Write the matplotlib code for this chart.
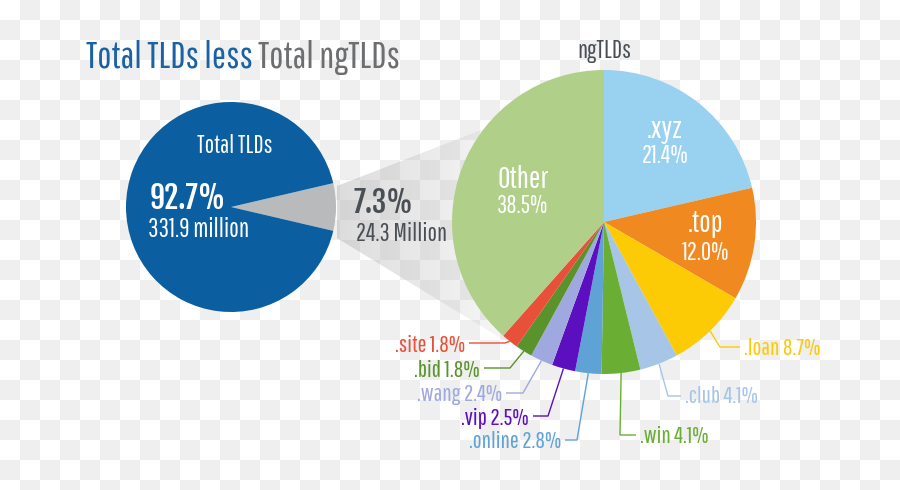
import numpy as np
import matplotlib
matplotlib.use("Agg")
import matplotlib.pyplot as plt
from matplotlib.patches import Polygon

# ---------------- data ----------------
total_labels = ["ngTLDs", "Total TLDs"]
total_shares = [7.3, 92.7]
total_values_text = ["24.3 Million", "331.9 million"]

ng_labels = [".xyz", ".top", ".loan", ".club", ".win", ".online", ".vip",
             ".wang", ".bid", ".site", "Other"]
ng_shares = [21.4, 12.0, 8.7, 4.1, 4.1, 2.8, 2.5, 2.4, 1.8, 1.8, 38.5]

# ---------------- style ----------------
FONT = ["Pathway Gothic One", "Roboto Condensed", "DejaVu Sans"]
BOLD = ["Fjalla One", "Oswald", "Roboto Condensed", "DejaVu Sans"]
plt.rcParams["font.family"] = FONT

W, H = 900, 490
BLUE = "#0b5e9f"
GRAY_WEDGE = "#b9babc"
DARK = "#4a4f55"
TITLE_BLUE = "#1a62a4"
TITLE_GRAY = "#6d6e70"
ng_colors = ["#99d1f0", "#f0891f", "#fccb05", "#a7c5e7", "#6aaf34",
             "#5fa3d6", "#5b0fbf", "#a0a8e0", "#5a922c", "#e8503a", "#b0cf88"]


def Y(py):
    return H - py


fig = plt.figure(figsize=(9, 4.9), dpi=100)
ax = fig.add_axes([0, 0, 1, 1])

# checkerboard background (transparent-PNG look)
ny, nx = H // 20 + 1, W // 20 + 1
cb = np.add.outer(np.arange(ny), np.arange(nx)) % 2
bg = np.ones((ny, nx, 3))
bg[cb == 1] = np.array([0xef, 0xef, 0xef]) / 255
ax.imshow(bg, extent=(0, nx * 20, H - ny * 20, H), origin="upper",
          interpolation="nearest", zorder=0)

# ---------------- left pie ----------------
Lc = (231, Y(207))
Lr = 105
ax.pie(total_shares, colors=[GRAY_WEDGE, BLUE], startangle=total_shares[0] * 1.8,
       counterclock=False, center=Lc, radius=Lr,
       wedgeprops=dict(linewidth=0, zorder=3))

# funnel (gradient) from the small wedge to the right pie
fx0, fx1 = 337, 530
funnel = Polygon([(fx0, Y(186)), (fx1, Y(111)), (fx1, Y(356)), (fx0, Y(238))],
                 closed=True, facecolor="none", edgecolor="none")
ax.add_patch(funnel)
grad = np.zeros((2, 256, 4))
grad[..., :3] = 0.70
grad[..., 3] = np.linspace(0.45, 0.06, 256)[None, :]
im = ax.imshow(grad, extent=(fx0, fx1, Y(356), Y(111)), origin="upper",
               interpolation="bilinear", zorder=1, aspect="auto")
im.set_clip_path(funnel)

# ---------------- right pie ----------------
Rc = (604, Y(222))
Rr = 152
wedges, _ = ax.pie(ng_shares, colors=ng_colors, startangle=90, counterclock=False,
                   center=Rc, radius=Rr,
                   wedgeprops=dict(linewidth=0, zorder=3))

ax.set_xlim(0, W)
ax.set_ylim(0, H)
ax.set_aspect("equal")
ax.axis("off")

# ---------------- texts ----------------
t1 = ax.text(86, Y(68), "Total TLDs less", color=TITLE_BLUE, fontsize=27,
             ha="left", va="baseline", zorder=5)
ax.annotate("Total ngTLDs", xy=(1, 0), xycoords=t1, xytext=(4, 0),
            textcoords="offset points", color=TITLE_GRAY, fontsize=27,
            ha="left", va="bottom", zorder=5)

ax.text(Rc[0], Y(58), "ngTLDs", color=DARK, fontsize=18, ha="center",
        va="baseline", zorder=5)

ax.text(235, Y(153), total_labels[1], color="white", fontsize=18,
        ha="center", va="baseline", zorder=5)
ax.text(150, Y(209), f"{total_shares[1]:.1f}%", color="white", fontsize=21.5,
        family=BOLD, ha="left", va="baseline", zorder=5)
ax.text(148, Y(237), total_values_text[1], color="white", fontsize=18.5,
        ha="left", va="baseline", zorder=5)

ax.text(353, Y(213), f"{total_shares[0]:.1f}%", color=DARK, fontsize=21,
        family=BOLD, ha="left", va="baseline", zorder=5)
ax.text(356, Y(241), total_values_text[0], color=DARK, fontsize=18,
        ha="left", va="baseline", zorder=5)

# inside labels for big slices: (name x, name baseline, pct baseline)
inside = {
    ".xyz": (665, 138, 163),
    ".top": (706, 232, 260),
    "Other": (523, 188, 213),
}
for name, (cx, b1, b2) in inside.items():
    i = ng_labels.index(name)
    ax.text(cx, Y(b1), name, color="white", fontsize=22,
            ha="center", va="baseline", zorder=5)
    ax.text(cx, Y(b2), f"{ng_shares[i]:.1f}%", color="white", fontsize=18,
            ha="center", va="baseline", zorder=5)

# outside labels: elbow point, line end, text side, text baseline
outside = {
    ".loan":   ((720, 347), (740, 347), "left", 355),
    ".club":   ((668, 396), (681, 396), "left", 403),
    ".win":    ((620, 435), (636, 435), "left", 443),
    ".online": ((577, 440), (565, 440), "right", 448),
    ".vip":    ((548, 416), (533, 416), "right", 425),
    ".wang":   ((523, 393), (506, 393), "right", 401),
    ".bid":    ((510, 368), (484, 368), "right", 377),
    ".site":   ((505, 343), (469, 343), "right", 352),
}
for w, name in zip(wedges, ng_labels):
    if name not in outside:
        continue
    i = ng_labels.index(name)
    ang = np.deg2rad((w.theta1 + w.theta2) / 2)
    sx = Rc[0] + Rr * np.cos(ang)
    sy = Rc[1] + Rr * np.sin(ang)
    (ex, ey), (lx, ly), side, base = outside[name]
    col = ng_colors[i]
    ax.plot([sx, ex, lx], [sy, Y(ey), Y(ly)], color=col, lw=1.0, zorder=4,
            solid_capstyle="butt")
    tx = lx + (4 if side == "left" else -4)
    ax.text(tx, Y(base), f"{name} {ng_shares[i]:.1f}%", color=col, fontsize=17,
            ha=side, va="baseline", zorder=5)

fig.savefig("out.png", dpi=100)
